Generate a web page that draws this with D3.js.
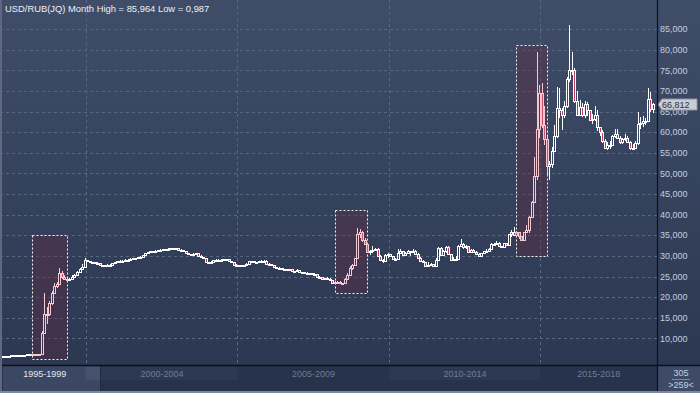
<!DOCTYPE html>
<html>
<head>
<meta charset="utf-8">
<script src="https://cdn.jsdelivr.net/npm/d3@7"></script>
<style>
    html, body { margin: 0; padding: 0; background: #2c3852; }
    svg { display: block; font-family: "Liberation Sans", Arial, sans-serif; }
</style>
</head>
<body>
<svg id="chart" width="700" height="393"></svg>
<script>
// monthly candles, Apr 1997 .. Oct 2018 (259 visible bars)
const months = d3.timeMonth.range(new Date(1997, 3, 1), new Date(2018, 10, 1));

const open = [
    5.74, 5.76, 5.77, 5.78, 5.80, 5.83, 5.85, 5.88, 5.91,
    5.96, 6.03, 6.07, 6.11, 6.14, 6.16, 6.20, 6.24, 11.40, 15.80, 16.00, 18.50,
    21.00, 22.80, 23.10, 25.80, 25.00, 24.50, 24.20, 24.30, 25.00, 25.30, 26.00, 26.80,
    27.40, 28.90, 28.70, 28.50, 28.40, 28.30, 28.20, 27.80, 27.75, 27.75, 27.85, 27.85,
    28.20, 28.40, 28.70, 28.75, 28.85, 29.05, 29.10, 29.30, 29.40, 29.40, 29.70, 29.85,
    30.15, 30.60, 30.90, 31.10, 31.20, 31.30, 31.45, 31.55, 31.60, 31.65, 31.75, 31.85,
    31.80, 31.80, 31.50, 31.35, 31.15, 30.75, 30.35, 30.40, 30.50, 30.60, 29.95, 29.80,
    29.45, 28.50, 28.50, 28.55, 29.00, 29.05, 29.05, 29.10, 29.25, 29.20, 28.75, 28.40,
    27.75, 27.75, 27.75, 27.45, 27.75, 28.10, 28.65, 28.65, 28.45, 28.50, 28.65, 28.80,
    28.80, 28.10, 28.15, 27.75, 27.25, 27.05, 27.05, 26.85, 26.75, 26.80, 26.75, 26.30,
    26.35, 26.60, 26.15, 26.00, 25.90, 25.90, 25.80, 25.55, 25.65, 24.95, 24.85, 24.30,
    24.55, 24.50, 24.20, 23.50, 23.65, 23.75, 23.45, 23.40, 24.50, 25.35, 27.05, 27.75,
    29.40, 35.40, 35.70, 33.95, 33.00, 31.00, 31.30, 31.55, 31.60, 30.00, 29.00, 28.85,
    30.25, 30.45, 29.95, 29.35, 29.25, 30.80, 31.20, 30.20, 30.70, 31.10, 30.90, 31.30,
    30.50, 29.60, 28.65, 28.45, 27.50, 27.90, 28.10, 27.65, 29.00, 32.00, 30.10, 31.20,
    32.20, 30.35, 28.95, 29.35, 29.35, 32.45, 32.80, 32.20, 32.30, 31.05, 31.45, 31.00,
    30.55, 30.05, 30.60, 31.10, 31.30, 31.75, 32.85, 32.90, 33.20, 32.35, 32.05, 33.15,
    32.75, 35.20, 35.90, 35.10, 35.70, 34.75, 33.85, 35.80, 36.20, 39.50, 43.20, 49.30,
    60.70, 69.60, 61.80, 58.30, 51.70, 52.30, 55.50, 59.10, 65.90, 65.50, 64.10, 66.50,
    72.90, 75.00, 75.10, 67.60, 64.30, 66.20, 64.10, 66.90, 65.40, 63.10, 63.20, 64.30,
    61.30, 60.10, 58.00, 56.30, 56.90, 56.90, 59.10, 59.70, 58.60, 57.60, 58.30, 58.60,
    57.60, 56.30, 56.30, 57.30, 61.90, 62.30, 62.80, 62.80, 68.00, 65.60
];

const close = [
    5.76, 5.77, 5.78, 5.80, 5.83, 5.85, 5.88, 5.91, 5.96,
    6.03, 6.07, 6.11, 6.14, 6.16, 6.20, 6.24, 11.40, 15.80, 16.00, 18.50, 21.00,
    22.80, 23.10, 25.80, 25.00, 24.50, 24.20, 24.30, 25.00, 25.30, 26.00, 26.80, 27.40,
    28.90, 28.70, 28.50, 28.40, 28.30, 28.20, 27.80, 27.75, 27.75, 27.85, 27.85, 28.20,
    28.40, 28.70, 28.75, 28.85, 29.05, 29.10, 29.30, 29.40, 29.40, 29.70, 29.85, 30.15,
    30.60, 30.90, 31.10, 31.20, 31.30, 31.45, 31.55, 31.60, 31.65, 31.75, 31.85, 31.80,
    31.80, 31.50, 31.35, 31.15, 30.75, 30.35, 30.40, 30.50, 30.60, 29.95, 29.80, 29.45,
    28.50, 28.50, 28.55, 29.00, 29.05, 29.05, 29.10, 29.25, 29.20, 28.75, 28.40, 27.75,
    27.75, 27.75, 27.45, 27.75, 28.10, 28.65, 28.65, 28.45, 28.50, 28.65, 28.80, 28.80,
    28.10, 28.15, 27.75, 27.25, 27.05, 27.05, 26.85, 26.75, 26.80, 26.75, 26.30, 26.35,
    26.60, 26.15, 26.00, 25.90, 25.90, 25.80, 25.55, 25.65, 24.95, 24.85, 24.30, 24.55,
    24.50, 24.20, 23.50, 23.65, 23.75, 23.45, 23.40, 24.50, 25.35, 27.05, 27.75, 29.40,
    35.40, 35.70, 33.95, 33.00, 31.00, 31.30, 31.55, 31.60, 30.00, 29.00, 28.85, 30.25,
    30.45, 29.95, 29.35, 29.25, 30.80, 31.20, 30.20, 30.70, 31.10, 30.90, 31.30, 30.50,
    29.60, 28.65, 28.45, 27.50, 27.90, 28.10, 27.65, 29.00, 32.00, 30.10, 31.20, 32.20,
    30.35, 28.95, 29.35, 29.35, 32.45, 32.80, 32.20, 32.30, 31.05, 31.45, 31.00, 30.55,
    30.05, 30.60, 31.10, 31.30, 31.75, 32.85, 32.90, 33.20, 32.35, 32.05, 33.15, 32.75,
    35.20, 35.90, 35.10, 35.70, 34.75, 33.85, 35.80, 36.20, 39.50, 43.20, 49.30, 60.70,
    69.60, 61.80, 58.30, 51.70, 52.30, 55.50, 59.10, 65.90, 65.50, 64.10, 66.50, 72.90,
    75.00, 75.10, 67.60, 64.30, 66.20, 64.10, 66.90, 65.40, 63.10, 63.20, 64.30, 61.30,
    60.10, 58.00, 56.30, 56.90, 56.90, 59.10, 59.70, 58.60, 57.60, 58.30, 58.60, 57.60,
    56.30, 56.30, 57.30, 61.90, 62.30, 62.80, 62.80, 68.00, 65.60, 66.812
];

const high = [
    5.78, 5.79, 5.80, 5.82, 5.85, 5.87, 5.90, 5.93, 5.98,
    6.05, 6.09, 6.13, 6.16, 6.19, 6.22, 6.26, 11.80, 20.90, 17.50, 19.00, 21.50,
    23.50, 23.60, 27.10, 26.40, 25.30, 24.70, 24.60, 25.30, 25.60, 26.30, 27.00, 28.00,
    29.50, 29.00, 28.80, 28.60, 28.50, 28.40, 28.25, 27.90, 27.90, 27.95, 27.95, 28.30,
    28.55, 28.85, 28.90, 28.95, 29.15, 29.20, 29.40, 29.50, 29.50, 29.80, 29.95, 30.25,
    30.75, 31.00, 31.20, 31.30, 31.40, 31.55, 31.65, 31.70, 31.75, 31.85, 31.95, 31.95,
    31.95, 31.90, 31.60, 31.40, 31.20, 30.80, 30.50, 30.60, 30.70, 30.65, 30.10, 29.85,
    29.50, 28.60, 28.65, 29.10, 29.15, 29.15, 29.20, 29.35, 29.30, 29.30, 28.80, 28.45,
    28.10, 27.85, 27.85, 27.85, 28.20, 28.75, 28.75, 28.70, 28.60, 28.75, 28.90, 28.90,
    28.90, 28.25, 28.15, 27.80, 27.30, 27.20, 27.10, 26.90, 26.90, 26.90, 26.80, 26.45,
    26.70, 26.65, 26.20, 26.05, 26.00, 25.95, 25.85, 25.85, 25.70, 25.05, 24.90, 24.65,
    24.80, 24.55, 24.20, 23.80, 23.85, 23.80, 23.50, 24.70, 25.80, 27.45, 27.95, 29.45,
    36.70, 36.45, 36.00, 34.30, 33.10, 31.50, 32.30, 31.90, 31.80, 30.25, 29.20, 30.35,
    30.60, 30.55, 29.95, 29.50, 31.70, 31.60, 31.25, 30.85, 31.35, 31.10, 31.65, 31.50,
    30.65, 29.80, 28.95, 28.50, 28.40, 28.25, 28.10, 29.55, 32.20, 32.25, 31.40, 32.30,
    32.40, 30.40, 29.65, 29.90, 32.75, 34.05, 33.20, 32.60, 32.40, 31.70, 31.75, 31.10,
    30.60, 30.75, 31.20, 31.75, 31.90, 33.05, 33.10, 33.50, 33.40, 32.40, 33.25, 33.20,
    35.40, 36.30, 37.00, 36.00, 35.75, 34.85, 35.90, 37.40, 39.80, 43.40, 54.00, 79.40,
    71.50, 72.00, 66.50, 59.00, 53.00, 56.50, 61.80, 71.00, 70.80, 66.00, 67.50, 73.50,
    85.964, 79.50, 75.50, 70.00, 67.90, 67.00, 67.50, 67.30, 65.50, 64.50, 66.40, 65.50,
    61.40, 60.60, 58.30, 57.70, 57.90, 59.30, 60.70, 60.80, 59.10, 58.70, 59.70, 59.20,
    57.80, 57.20, 57.80, 64.90, 63.80, 64.00, 63.50, 70.70, 69.90, 67.00
];

const low = [
    5.72, 5.75, 5.76, 5.77, 5.79, 5.82, 5.84, 5.87, 5.90,
    5.96, 6.02, 6.06, 6.10, 6.13, 6.15, 6.19, 6.20, 11.00, 13.50, 15.50, 18.20,
    20.80, 22.30, 22.90, 24.50, 24.20, 24.00, 24.00, 24.20, 24.80, 25.20, 25.90, 26.60,
    27.30, 28.50, 28.40, 28.30, 28.20, 28.10, 27.70, 27.65, 27.65, 27.70, 27.75, 27.80,
    28.10, 28.35, 28.60, 28.70, 28.80, 29.00, 29.05, 29.25, 29.30, 29.35, 29.65, 29.80,
    30.05, 30.50, 30.80, 31.00, 31.10, 31.20, 31.35, 31.45, 31.50, 31.55, 31.65, 31.70,
    31.65, 31.40, 31.25, 31.05, 30.65, 30.25, 30.25, 30.30, 30.40, 29.85, 29.70, 29.35,
    28.40, 28.40, 28.45, 28.50, 28.90, 28.95, 28.95, 29.05, 29.10, 28.65, 28.30, 27.70,
    27.70, 27.65, 27.40, 27.40, 27.70, 28.05, 28.55, 28.40, 28.40, 28.45, 28.60, 28.70,
    28.00, 28.00, 27.70, 27.20, 26.95, 26.95, 26.80, 26.70, 26.70, 26.65, 26.25, 26.25,
    26.25, 26.10, 25.95, 25.85, 25.80, 25.75, 25.50, 25.45, 24.90, 24.75, 24.25, 24.20,
    24.40, 24.10, 23.45, 23.45, 23.60, 23.40, 23.15, 23.35, 24.40, 25.25, 26.50, 27.70,
    29.35, 34.40, 33.40, 32.90, 30.90, 30.20, 30.70, 31.10, 29.80, 28.80, 28.25, 28.70,
    29.55, 29.80, 29.30, 28.90, 29.20, 30.70, 30.10, 30.05, 30.65, 29.95, 30.70, 30.35,
    29.25, 28.55, 28.20, 27.30, 27.25, 27.80, 27.25, 27.60, 28.90, 30.00, 30.10, 30.70,
    30.20, 28.90, 28.80, 29.10, 29.25, 32.20, 31.75, 31.75, 30.75, 30.75, 30.90, 30.45,
    29.85, 29.95, 30.50, 30.80, 30.90, 31.70, 32.40, 32.55, 32.10, 31.80, 31.90, 32.60,
    32.70, 34.50, 35.00, 34.90, 34.20, 33.60, 33.80, 35.50, 35.60, 39.30, 42.90, 48.50,
    58.50, 61.00, 57.00, 49.50, 48.40, 51.40, 55.30, 58.70, 63.50, 60.50, 63.50, 66.00,
    72.30, 74.00, 67.00, 64.00, 63.90, 63.80, 63.40, 63.90, 62.80, 61.90, 62.70, 60.40,
    59.20, 57.50, 55.90, 55.70, 55.90, 56.80, 58.60, 58.60, 57.10, 57.10, 57.80, 57.50,
    55.70, 55.60, 56.30, 57.00, 60.80, 61.20, 61.80, 62.60, 65.00, 64.80
];

// highlighted crisis windows
const boxStart = [new Date(1998, 3, 1), new Date(2008, 3, 1), new Date(2014, 3, 1)];
const boxEnd = [new Date(1999, 5, 1), new Date(2009, 4, 1), new Date(2015, 3, 1)];
const boxLow = [5.0, 21.0, 30.0];
const boxHigh = [35.1, 41.1, 81.2];

const yTicks = [10, 15, 20, 25, 30, 35, 40, 45, 50, 55, 60, 65, 70, 75, 80, 85];
const periodLabels = ['1995-1999', '2000-2004', '2005-2009', '2010-2014', '2015-2018'];
const periodStarts = [1995, 2000, 2005, 2010, 2015];
const titleText = 'USD/RUB(JQ) Month High = 85,964 Low = 0,987';
const barTotal = '305';
const barVisible = '>259<';

const width = 700, height = 393;
const plotRight = 657, plotBottom = 365;

const svg = d3.select('#chart');
const fmt = v => d3.format('.3f')(v).replace('.', ',');

const x = d3.scaleBand().domain(d3.range(months.length)).range([0, 654]);
const y = d3.scaleLinear().domain([3.52, 92.11]).range([plotBottom, 0]);
const cx = i => Math.round(x(i) + x.bandwidth() / 2);
const monthIndex = dt => months.findIndex(m => m.getFullYear() === dt.getFullYear() && m.getMonth() === dt.getMonth());

// background
const defs = svg.append('defs');
const grad = defs.append('linearGradient').attr('id', 'bg').attr('x1', 0).attr('y1', 0).attr('x2', 0).attr('y2', 1);
grad.append('stop').attr('offset', '0%').attr('stop-color', '#3f4d68');
grad.append('stop').attr('offset', '100%').attr('stop-color', '#2c3852');
defs.append('clipPath').attr('id', 'plotclip')
    .append('rect').attr('x', 0).attr('y', 0).attr('width', plotRight).attr('height', plotBottom);

svg.append('rect').attr('width', width).attr('height', plotBottom).attr('fill', 'url(#bg)');

// grid
const gridColor = '#58667f';
svg.append('g').selectAll('line').data(yTicks).enter().append('line')
    .attr('x1', 0).attr('x2', plotRight)
    .attr('y1', d => Math.round(y(d)) + 0.5).attr('y2', d => Math.round(y(d)) + 0.5)
    .attr('stroke', gridColor).attr('stroke-dasharray', '3,3');

const gridX = periodStarts.map(yr => {
    const i = monthIndex(new Date(yr, 0, 1));
    return i < 0 ? null : cx(i) + 1.5;
});
svg.append('g').selectAll('line').data(gridX.filter(d => d !== null)).enter().append('line')
    .attr('x1', d => d).attr('x2', d => d)
    .attr('y1', 0).attr('y2', plotBottom)
    .attr('stroke', gridColor).attr('stroke-dasharray', '3,3');

// highlight boxes
const boxes = boxStart.map((s, k) => ({start: s, end: boxEnd[k], lo: boxLow[k], hi: boxHigh[k]}));
svg.append('g').selectAll('rect').data(boxes).enter().append('rect')
    .attr('x', d => cx(monthIndex(d.start)) + 0.5)
    .attr('width', d => cx(monthIndex(d.end)) - cx(monthIndex(d.start)))
    .attr('y', d => Math.round(y(d.hi)) + 0.5)
    .attr('height', d => Math.round(y(d.lo)) - Math.round(y(d.hi)))
    .attr('fill', 'rgba(100,38,62,0.36)')
    .attr('stroke', '#f2f2f2').attr('stroke-width', 1).attr('stroke-dasharray', '2,2');

// candles
const bars = months.map((m, i) => ({i, date: m, o: open[i], h: high[i], l: low[i], c: close[i]}));
const inBox = d => boxes.some(b => d.date >= b.start && d.date <= b.end);

const candles = svg.append('g').attr('clip-path', 'url(#plotclip)')
    .attr('shape-rendering', 'crispEdges');

const candle = candles.selectAll('g').data(bars).enter().append('g');

candle.each(function(d) {
    const g = d3.select(this);
    const col = inBox(d) ? '#f6c9d2' : '#ffffff';
    const downFill = inBox(d) ? '#d2506e' : '#c23a5c';
    const xc = cx(d.i);
    const top = Math.round(y(Math.max(d.o, d.c)));
    const bot = Math.max(top + 1, Math.round(y(Math.min(d.o, d.c))));
    g.append('line')
        .attr('x1', xc + 0.5).attr('x2', xc + 0.5)
        .attr('y1', Math.round(y(d.h))).attr('y2', top)
        .attr('stroke', col);
    g.append('line')
        .attr('x1', xc + 0.5).attr('x2', xc + 0.5)
        .attr('y1', bot).attr('y2', Math.round(y(d.l)))
        .attr('stroke', col);
    g.append('rect')
        .attr('x', xc - 0.5).attr('width', 2)
        .attr('y', top + 0.5).attr('height', bot - top)
        .attr('fill', d.c < d.o ? downFill : 'none')
        .attr('stroke', col).attr('stroke-width', 1);
});

// right axis
svg.append('g').selectAll('text').data(yTicks).enter().append('text')
    .attr('x', 660).attr('y', d => y(d) + 3.2)
    .attr('font-size', 9).attr('fill', '#c6cedf')
    .text(d => fmt(d));

// last value marker (covers the tick label beneath, as in the source)
const last = close[close.length - 1];
const ly = Math.round(y(last));
svg.append('path')
    .attr('d', `M658,${ly + 0.5} L662,${ly - 5} L697,${ly - 5} L697,${ly + 6} L662,${ly + 6} Z`)
    .attr('fill', '#c9ccd3').attr('stroke', '#8e96a6');
svg.append('text').attr('x', 662).attr('y', ly + 4)
    .attr('font-size', 9).attr('fill', '#2a2f3a')
    .text(fmt(last));

// navigator strip
svg.append('rect').attr('x', 0).attr('y', plotBottom).attr('width', width).attr('height', height - plotBottom)
    .attr('fill', '#27324b');
svg.append('rect').attr('x', 3).attr('y', plotBottom + 1).attr('width', 97).attr('height', 25)
    .attr('fill', '#3b4863');
[[1, 2], [3, 4]].forEach(([a, b]) => {
    svg.append('rect').attr('x', gridX[a]).attr('y', plotBottom + 2)
        .attr('width', gridX[b] - gridX[a]).attr('height', 13)
        .attr('fill', '#2d3953');
});
svg.append('rect').attr('x', gridX[1] - 1).attr('y', plotBottom + 2).attr('width', 15).attr('height', 13)
    .attr('fill', '#46526c');
svg.append('line').attr('x1', 100.5).attr('x2', 100.5).attr('y1', plotBottom + 1).attr('y2', height - 2)
    .attr('stroke', '#1f2940');

const navBounds = periodStarts.map((yr, k) => {
    const left = k === 0 ? 3 : gridX[k];
    const right = k === periodStarts.length - 1 ? plotRight : gridX[k + 1];
    return (left + right) / 2;
});
svg.append('g').selectAll('text').data(periodLabels).enter().append('text')
    .attr('x', (d, k) => navBounds[k]).attr('y', 377)
    .attr('text-anchor', 'middle').attr('font-size', 9)
    .attr('fill', (d, k) => k === 0 ? '#e2e6ee' : '#6f7b95')
    .text(d => d);

// corner counter
svg.append('rect').attr('x', plotRight + 1).attr('y', plotBottom + 1).attr('width', width - plotRight - 1).attr('height', 25)
    .attr('fill', '#3e4b67');
svg.append('text').attr('x', 681).attr('y', 376).attr('text-anchor', 'middle')
    .attr('font-size', 9).attr('fill', '#c6cedf').text(barTotal);
svg.append('line').attr('x1', 672).attr('x2', 690).attr('y1', 379.5).attr('y2', 379.5)
    .attr('stroke', '#7e889c');
svg.append('text').attr('x', 681).attr('y', 388).attr('text-anchor', 'middle')
    .attr('font-size', 9).attr('fill', '#c6cedf').text(barVisible);

// frame lines
svg.append('line').attr('x1', 0).attr('x2', width).attr('y1', plotBottom + 0.5).attr('y2', plotBottom + 0.5)
    .attr('stroke', '#0c111b').attr('stroke-width', 1.5);
svg.append('line').attr('x1', plotRight + 0.5).attr('x2', plotRight + 0.5).attr('y1', 0).attr('y2', height)
    .attr('stroke', '#0c111b').attr('stroke-width', 1.2);
svg.append('rect').attr('x', 0).attr('y', 0).attr('width', 2).attr('height', height).attr('fill', '#5d6981');
svg.append('rect').attr('x', 0).attr('y', height - 2).attr('width', width).attr('height', 2).attr('fill', '#7c879c');

// title
svg.append('text').attr('x', 5).attr('y', 11.5)
    .attr('font-size', 9.4).attr('fill', '#eef1f6')
    .text(titleText);
</script>
</body>
</html>
